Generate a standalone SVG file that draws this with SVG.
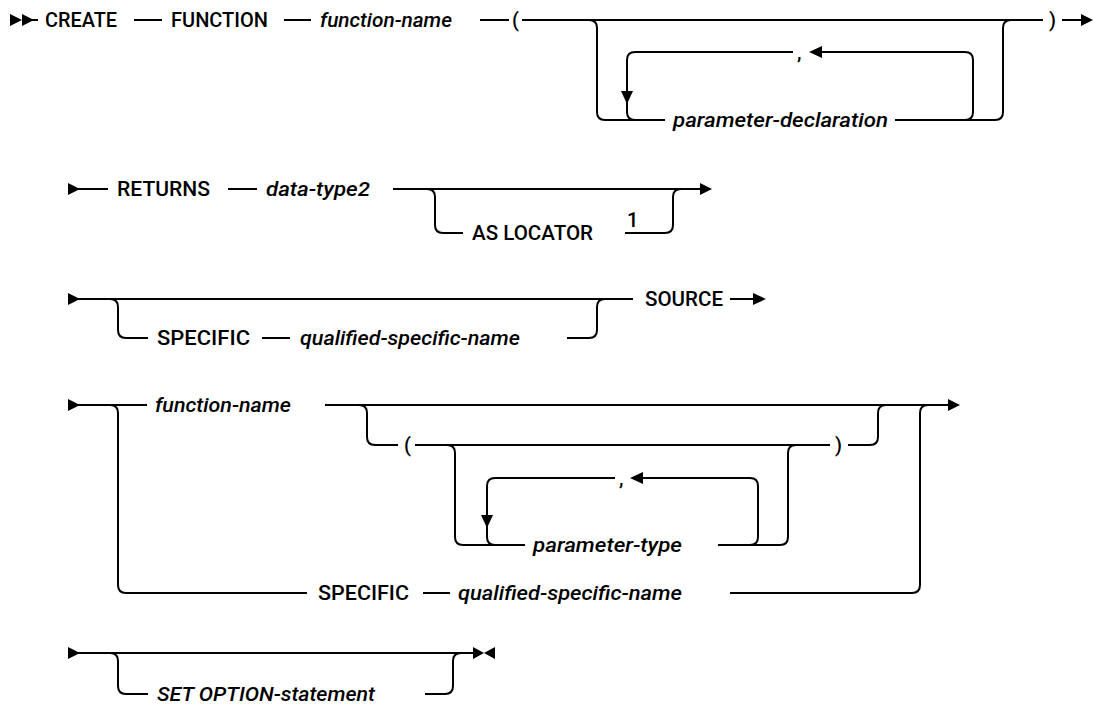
<svg xmlns="http://www.w3.org/2000/svg" width="1094" height="706" viewBox="0 0 1094 706">
<style>
.ln{fill:none;stroke:#000;stroke-width:2}
.ah{fill:#000}
.kw{font-family:Roboto,"Liberation Sans",sans-serif;font-size:20px;font-weight:500;fill:#000}
.var{font-family:Roboto,"Liberation Sans",sans-serif;font-size:20px;font-weight:500;font-style:italic;fill:#000}
</style>
<rect width="1094" height="706" fill="#fff"/>
<g id="connectors">
<!-- row 1 -->
<polygon class="ah" points="10,14 22,20 10,26"/>
<polygon class="ah" points="22,14 34,20 22,26"/>
<path class="ln" d="M30,20 H38"/>
<path class="ln" d="M134,20 H162"/>
<path class="ln" d="M284,20 H311"/>
<path class="ln" d="M480,20 H509"/>
<path class="ln" d="M522,20 H1043"/>
<path class="ln" d="M589,20 Q597,20 597,28 V112 Q597,120 605,120 H665"/>
<path class="ln" d="M895,120 H995 Q1003,120 1003,112 V28 Q1003,20 1011,20"/>
<path class="ln" d="M965,120 Q973,120 973,112 V60 Q973,52 965,52 H820"/>
<polygon class="ah" points="822,46 809,52 822,58"/>
<path class="ln" d="M793,52 H635 Q627,52 627,60 V92"/>
<polygon class="ah" points="621,91 627,104 633,91"/>
<path class="ln" d="M627,100 V112 Q627,120 635,120"/>
<path class="ln" d="M1062,20 H1082"/>
<polygon class="ah" points="1081,14 1093,20 1081,26"/>
<!-- row 2 -->
<polygon class="ah" points="68,183 80,189 68,195"/>
<path class="ln" d="M78,189 H108"/>
<path class="ln" d="M228,189 H257"/>
<path class="ln" d="M393,189 H701"/>
<polygon class="ah" points="700,183 712,189 700,195"/>
<path class="ln" d="M427,189 Q435,189 435,197 V225 Q435,233 443,233 H463"/>
<path class="ln" d="M625,233 H665 Q673,233 673,225 V197 Q673,189 681,189"/>
<!-- row 3 -->
<polygon class="ah" points="68,293 80,299 68,305"/>
<path class="ln" d="M78,299 H633"/>
<path class="ln" d="M110,299 Q118,299 118,307 V330 Q118,338 126,338 H148"/>
<path class="ln" d="M262,338 H290"/>
<path class="ln" d="M567,338 H589 Q597,338 597,330 V307 Q597,299 605,299"/>
<path class="ln" d="M730,299 H755"/>
<polygon class="ah" points="753,293 766,299 753,305"/>
<!-- row 4 -->
<polygon class="ah" points="68,399 80,405 68,411"/>
<path class="ln" d="M78,405 H147"/>
<path class="ln" d="M110,405 Q118,405 118,413 V585 Q118,593 126,593 H307"/>
<path class="ln" d="M423,593 H450"/>
<path class="ln" d="M730,593 H912 Q920,593 920,585 V413 Q920,405 928,405"/>
<path class="ln" d="M325,405 H949"/>
<polygon class="ah" points="948,399 960,405 948,411"/>
<path class="ln" d="M359,405 Q367,405 367,413 V437 Q367,445 375,445 H398"/>
<path class="ln" d="M415,445 H830"/>
<path class="ln" d="M848,445 H870 Q878,445 878,437 V413 Q878,405 886,405"/>
<path class="ln" d="M447,445 Q455,445 455,453 V537 Q455,545 463,545 H525"/>
<path class="ln" d="M718,545 H780 Q788,545 788,537 V453 Q788,445 796,445"/>
<path class="ln" d="M750,545 Q758,545 758,537 V486 Q758,478 750,478 H641"/>
<polygon class="ah" points="643,472 630,478 643,484"/>
<path class="ln" d="M615,478 H495 Q487,478 487,486 V516"/>
<polygon class="ah" points="481,515 487,528 493,515"/>
<path class="ln" d="M487,524 V537 Q487,545 495,545"/>
<!-- row 5 -->
<polygon class="ah" points="68,647 80,653 68,659"/>
<path class="ln" d="M78,653 H474"/>
<path class="ln" d="M110,653 Q118,653 118,661 V686 Q118,694 126,694 H148"/>
<path class="ln" d="M425,694 H445 Q453,694 453,686 V661 Q453,653 461,653"/>
<polygon class="ah" points="473,647 484,653 473,659"/>
<polygon class="ah" points="495,647 484,653 495,659"/>
</g>
<g id="n-create"><text class="kw" x="45" y="27" textLength="72" lengthAdjust="spacingAndGlyphs">CREATE</text></g>
<g id="n-function"><text class="kw" x="171" y="27" textLength="97" lengthAdjust="spacingAndGlyphs">FUNCTION</text></g>
<g id="n-function-name-1"><text class="var" x="320" y="27" textLength="132" lengthAdjust="spacingAndGlyphs">function-name</text></g>
<g id="n-lparen-1"><text class="kw" x="512" y="27">(</text></g>
<g id="n-param-decl"><text class="var" x="673" y="127" textLength="215" lengthAdjust="spacingAndGlyphs">parameter-declaration</text></g>
<g id="n-comma-1"><text class="kw" x="797" y="59">,</text></g>
<g id="n-rparen-1"><text class="kw" x="1049" y="27">)</text></g>
<g id="n-returns"><text class="kw" x="117" y="196" textLength="93" lengthAdjust="spacingAndGlyphs">RETURNS</text></g>
<g id="n-data-type2"><text class="var" x="266" y="196" textLength="104" lengthAdjust="spacingAndGlyphs">data-type2</text></g>
<g id="n-as-locator"><text class="kw" x="472" y="240" textLength="121" lengthAdjust="spacingAndGlyphs">AS LOCATOR</text></g>
<g id="n-note-1"><text class="kw" x="627" y="227">1</text></g>
<g id="n-specific-1"><text class="kw" x="157" y="345" textLength="93" lengthAdjust="spacingAndGlyphs">SPECIFIC</text></g>
<g id="n-qsn-1"><text class="var" x="300" y="345" textLength="220" lengthAdjust="spacingAndGlyphs">qualified-specific-name</text></g>
<g id="n-source"><text class="kw" x="645" y="306" textLength="78" lengthAdjust="spacingAndGlyphs">SOURCE</text></g>
<g id="n-function-name-2"><text class="var" x="155" y="412" textLength="136" lengthAdjust="spacingAndGlyphs">function-name</text></g>
<g id="n-lparen-2"><text class="kw" x="404" y="452">(</text></g>
<g id="n-comma-2"><text class="kw" x="619" y="485">,</text></g>
<g id="n-param-type"><text class="var" x="533" y="552" textLength="149" lengthAdjust="spacingAndGlyphs">parameter-type</text></g>
<g id="n-rparen-2"><text class="kw" x="835" y="452">)</text></g>
<g id="n-specific-2"><text class="kw" x="318" y="600" textLength="91" lengthAdjust="spacingAndGlyphs">SPECIFIC</text></g>
<g id="n-qsn-2"><text class="var" x="458" y="600" textLength="224" lengthAdjust="spacingAndGlyphs">qualified-specific-name</text></g>
<g id="n-set-option"><text class="var" x="157" y="701" textLength="218" lengthAdjust="spacingAndGlyphs">SET OPTION-statement</text></g>
</svg>
